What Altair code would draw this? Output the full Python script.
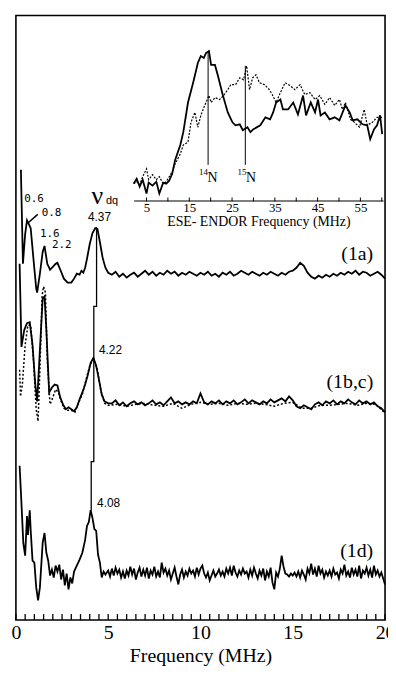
import altair as alt
import pandas as pd
import numpy as np

# ---------------- main panel data (frequency MHz, intensity a.u.) ----------------
a_low_f = [0.27,0.38,0.5,0.6,0.7,0.8,0.95,1.1,1.15,1.3,1.45,1.55,1.7,1.85,2.0,2.15,2.25,2.45,
           2.6,2.8,3.0,3.15,3.3,3.45,3.55,3.65,3.75,3.85,4.0,4.15,4.3,4.42,4.55,4.7,4.85,5.0]
a_low_v = [455,360,390,404,400,396,365,335,331,350,372,378,360,354,357,360,361,352,
           345,341,341,345,350,349,353,351,356,365,380,391,396,395,382,366,356,351]
a_base_v = [349,352,347,350,346,349,351,347,350,353,
            349,352,348,351,349,353,350,352,348,351,
            349,352,350,348,351,349,352,348,350,347,
            351,349,352,348,350,353,351,349,352,350,
            348,351,349,352,350,348,351,349,352,353,
            356,361,358,351,347,345,348,346,349,347,
            350,348,351,349,352,350,353,349,352,351,
            348,350,352,349,345]

bs_low_f = [0.2,0.3,0.45,0.6,0.75,0.9,1.05,1.15,1.3,1.45,1.55,1.65,1.8,1.95,2.1,2.25,2.4,2.55,
            2.7,2.85,3.0,3.15,3.3,3.45,3.6,3.75,3.9,4.05,4.2,4.35,4.5,4.65,4.8,5.0]
bs_low_v = [360,276,293,300,301,278,238,221,273,325,327,293,230,235,238,237,225,218,
            213,215,213,211,215,223,230,238,248,260,265,257,243,228,221,219]
bs_base_v = [219,222,217,220,216,219,221,218,220,217,
             219,222,218,220,217,221,225,219,221,218,
             220,218,221,219,229,220,218,221,219,222,
             218,221,219,222,218,220,223,219,222,220,
             218,221,219,223,220,222,224,221,226,222,
             216,214,217,215,213,218,220,217,221,219,
             222,218,221,219,223,220,218,222,219,221,
             218,220,216,214,210]

bd_f = [0.2,0.25,0.35,0.5,0.65,0.8,0.95,1.1,1.2,1.3,1.42,1.5,1.6,1.7,1.85,2.0,2.15,2.3,2.45,
        2.6,2.8,3.0,3.2,3.4,3.6,3.8,4.0,4.2,4.4,4.6,4.8,5.0,
        5.5,6.0,6.5,7.0,7.5,8.0,8.5,9.0,9.5,10.0,10.5,11.0,11.5,12.0,12.5,13.0,13.5,14.0,
        14.5,15.0,15.5,16.0,16.5,17.0,17.5,18.0,18.5,19.0,19.5,20.0]
bd_v = [253,226,238,278,298,298,263,213,201,253,328,337,331,263,218,225,233,230,221,
        214,212,212,210,220,228,243,257,264,254,232,219,217,
        218,216,218,219,217,216,219,214,218,220,218,219,217,219,218,219,218,216,
        219,220,214,214,217,217,218,219,217,219,218,209]

d_low_f = [0.2,0.3,0.4,0.5,0.6,0.65,0.75,0.8,0.9,1.0,1.1,1.2,1.3,1.45,1.55,1.65,1.75,1.85,1.95,2.05,
           2.15,2.25,2.35,2.45,2.55,2.65,2.75,2.85,2.95,3.05,3.15,3.3,3.45,3.6,3.75,3.85,3.95,4.05,
           4.15,4.25,4.35,4.45,4.55,4.65,4.75,4.85]
d_low_v = [156,118,78,65,105,86,111,91,60,58,33,20,33,78,88,68,60,45,51,43,
           55,49,56,41,51,35,47,31,43,37,49,55,61,68,81,95,99,111,
           103,92,90,66,58,43,49,46]
d_base_v = [50,44,52,45,53,47,51,43,49,42,
            50,45,54,46,52,41,48,53,44,51,
            45,53,42,50,46,54,44,49,43,58,
            48,52,45,50,41,47,53,44,36,46,
            51,43,49,45,52,47,50,44,53,46,
            52,55,47,43,48,40,45,50,44,47,
            51,45,49,44,52,47,53,45,55,48,
            44,50,46,52,47,49,43,51,45,53,
            47,42,50,45,52,40,49,44,53,38,
            31,48,44,52,65,54,47,46,44,47,
            45,48,44,49,43,50,46,41,52,47,
            57,46,52,44,55,47,51,43,49,45,
            50,44,52,46,48,42,51,47,56,45,
            49,43,53,46,51,44,55,42,50,47,
            53,45,51,43,55,46,50,44,48,42,
            36]

guide_f = [4.37, 4.37, 4.22, 4.22, 4.08, 4.08]
guide_v = [397, 317, 317, 160, 160, 111]

pointer_f = [0.64, 1.18]
pointer_v = [401, 410]

# ---------------- inset data ----------------
ins_s_f = [2.0,2.7,3.4,4.1,5.0,5.5,6.4,7.3,8.0,8.9,9.6,10.3,11.0,11.7,12.9,13.6,14.7,15.9,17.0,17.7,
           18.4,18.9,19.6,20.1,21.0,21.7,22.8,24.0,25.1,25.8,26.8,27.5,28.6,29.3,30.0,31.6,32.8,33.9,34.6,35.3,
           36.3,36.9,38.1,39.3,40.4,41.6,42.3,43.4,44.4,45.1,45.7,46.7,47.8,49.0,50.1,51.5,52.5,53.2,54.3,55.5,
           56.6,57.3,58.2,58.9,59.6,60.1]
ins_s_v = [18,23,15,22,8,19,16,20,8,19,18,21,28,42,57,70,100,120,140,147,
           145,150,152,138,138,127,108,90,80,77,78,72,75,70,73,77,85,83,90,100,
           103,93,93,100,88,107,87,100,90,103,87,90,83,85,82,97,90,82,83,78,
           77,63,73,77,87,68]
ins_d_f = [2.0,2.7,3.4,4.1,5.0,5.5,6.4,7.3,8.0,8.9,9.6,10.3,11.0,11.7,12.9,13.6,14.7,15.4,16.3,17.0,
           17.7,18.6,19.6,20.1,21.0,22.1,23.0,24.0,24.7,25.8,26.8,27.7,28.4,29.1,29.8,30.6,31.4,32.6,33.7,34.4,
           35.3,36.3,37.4,38.6,39.7,40.9,42.0,43.2,44.4,45.5,46.7,47.8,49.0,50.1,50.8,51.5,52.7,53.6,54.8,55.9,
           56.6,57.8,58.9,60.1]
ins_d_v = [18,20,17,25,33,22,27,22,25,18,20,25,30,38,48,57,60,80,90,75,
           87,97,107,100,105,103,107,113,118,118,125,123,137,113,125,128,120,118,113,108,
           100,110,120,117,113,118,108,110,103,107,98,105,97,103,93,100,83,80,75,93,
           77,80,85,85]

n_lines_f = [19.4, 28.1]
n_lines_lo = [37, 37]
n_lines_hi = [152, 137]

# ---------------- frames ----------------
def grid(start, n, step):
    return [round(start + step * i, 3) for i in range(n)]

df_a = pd.DataFrame({"f": a_low_f + grid(5.2, len(a_base_v), 0.2), "v": a_low_v + a_base_v})
df_bs = pd.DataFrame({"f": bs_low_f + grid(5.2, len(bs_base_v), 0.2), "v": bs_low_v + bs_base_v})
df_bd = pd.DataFrame({"f": bd_f, "v": bd_v})
df_d = pd.DataFrame({"f": d_low_f + grid(5.0, len(d_base_v), 0.1), "v": d_low_v + d_base_v})
df_guide = pd.DataFrame({"f": guide_f, "v": guide_v, "o": list(range(len(guide_f)))})
df_ptr = pd.DataFrame({"f": pointer_f, "v": pointer_v})
df_mticks = pd.DataFrame({"f": grid(0.0, 41, 0.5), "v": [0] * 41, "v2": [6] * 41})

W, H = 373, 611
FONT_SERIF = "Liberation Serif"

mx = alt.Scale(domain=[0, 20], nice=False, zero=False)
my = alt.Scale(domain=[0, 611], nice=False, zero=False)
main_axis = alt.Axis(orient="bottom", values=[0, 5, 10, 15, 20], domain=False, ticks=False,
                     grid=False, labelFont=FONT_SERIF, labelFontSize=20, labelColor="black",
                     labelPadding=3, labelFlush=False, title="Frequency (MHz)",
                     titleFont=FONT_SERIF, titleFontSize=20, titleFontWeight="normal",
                     titleColor="black", titlePadding=3)

def MX():
    return alt.X("f:Q", scale=mx, axis=main_axis)

def MY():
    return alt.Y("v:Q", scale=my, axis=None)

solid_main = []
for df in (df_a, df_bs, df_d):
    solid_main.append(alt.Chart(df).mark_line(color="black", strokeWidth=1.8).encode(x=MX(), y=MY()))
dotted_main = alt.Chart(df_bd).mark_line(color="black", strokeWidth=1.5, strokeDash=[2, 2]).encode(x=MX(), y=MY())
guide = alt.Chart(df_guide).mark_line(color="black", strokeWidth=1.3).encode(x=MX(), y=MY(), order="o:Q")
ptr = alt.Chart(df_ptr).mark_line(color="black", strokeWidth=1.5).encode(x=MX(), y=MY())
mticks = alt.Chart(df_mticks).mark_rule(color="black", strokeWidth=1.3).encode(
    x=MX(), y=MY(), y2="v2:Q")

def mtext(items, align, font, size):
    df = pd.DataFrame(items, columns=["f", "v", "t"])
    return alt.Chart(df).mark_text(align=align, baseline="middle", font=font, fontSize=size,
                                   color="black").encode(x=MX(), y=MY(), text="t:N")

txt_small = mtext([(0.45, 425, "0.6"), (1.4, 411, "0.8"), (1.3, 390, "1.6"), (1.95, 379, "2.2")],
                  "left", "DejaVu Sans Mono", 11)
txt_peaks = mtext([(3.9, 407, "4.37"), (4.5, 273, "4.22"), (4.4, 118, "4.08")],
                  "left", "Liberation Sans", 12)
txt_nu = mtext([(4.1, 428, "ν")], "left", FONT_SERIF, 26)
txt_dq = mtext([(4.88, 423, "dq")], "left", "Liberation Sans", 11)
txt_series = mtext([(19.36, 370, "(1a)"), (19.36, 240, "(1b,c)"), (19.36, 70, "(1d)")],
                   "right", FONT_SERIF, 20)

main = alt.layer(*solid_main, dotted_main, guide, ptr, mticks,
                 txt_small, txt_peaks, txt_nu, txt_dq, txt_series)

# ---------------- inset ----------------
ix = alt.Scale(domain=[2, 60.3], range=[119, 371], nice=False, zero=False)
iy = alt.Scale(domain=[0, 150], range=[188, 38], nice=False, zero=False)
inset_axis = alt.Axis(orient="bottom", offset=-424, values=[5, 15, 25, 35, 45, 55], ticks=False,
                      grid=False, domainColor="black", domainWidth=1.2, labelFont=FONT_SERIF,
                      labelFontSize=13, labelColor="black", labelPadding=1, labelFlush=False,
                      title="ESE- ENDOR Frequency (MHz)", titleFont=FONT_SERIF, titleFontSize=14,
                      titleFontWeight="normal", titleColor="black", titlePadding=0)

def IX():
    return alt.X("f:Q", scale=ix, axis=inset_axis)

def IY():
    return alt.Y("v:Q", scale=iy, axis=None)

df_is = pd.DataFrame({"f": ins_s_f, "v": ins_s_v})
df_id = pd.DataFrame({"f": ins_d_f, "v": ins_d_v})
df_nl = pd.DataFrame({"f": n_lines_f, "v": n_lines_lo, "v2": n_lines_hi})
df_iticks = pd.DataFrame({"f": grid(5.0, 12, 5.0), "v": [0] * 12, "v2": [4] * 12})

in_s = alt.Chart(df_is).mark_line(color="black", strokeWidth=1.8).encode(x=IX(), y=IY())
in_d = alt.Chart(df_id).mark_line(color="black", strokeWidth=1.2, strokeDash=[2, 1.5]).encode(x=IX(), y=IY())
in_nl = alt.Chart(df_nl).mark_rule(color="black", strokeWidth=1).encode(x=IX(), y=IY(), y2="v2:Q")
in_ticks = alt.Chart(df_iticks).mark_rule(color="black", strokeWidth=1).encode(
    x=IX(), y=IY(), y2="v2:Q")

def itext(items, size):
    df = pd.DataFrame(items, columns=["f", "v", "t"])
    return alt.Chart(df).mark_text(align="center", baseline="middle", font=FONT_SERIF, fontSize=size,
                                   color="black").encode(x=IX(), y=IY(), text="t:N")

in_sup = itext([(18.3, 30, "14"), (27.3, 30, "15")], 9)
in_N = itext([(20.4, 24, "N"), (29.4, 24, "N")], 14)

inset = alt.layer(in_s, in_d, in_nl, in_ticks, in_sup, in_N)

chart = alt.layer(main, inset).resolve_scale(x="independent", y="independent").properties(
    width=W, height=H,
    autosize=alt.AutoSizeParams(type="none"),
    padding={"left": 8, "top": 4, "right": 3, "bottom": 50},
    background="white",
).configure_view(stroke="black", strokeWidth=1.6).configure_axis(
    labelFont=FONT_SERIF, titleFont=FONT_SERIF, labelColor="black", titleColor="black"
)

chart.save("out.html", embed_options={"renderer": "svg", "actions": False})
